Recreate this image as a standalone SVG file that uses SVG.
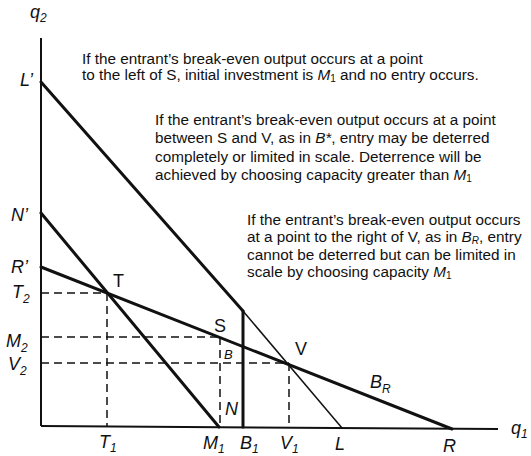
<svg xmlns="http://www.w3.org/2000/svg" width="531" height="456" viewBox="0 0 531 456">
<style>
.txt{font-family:"Liberation Sans",Arial,sans-serif;font-size:15.3px;fill:#111}
.lab{font-family:"Liberation Sans",Arial,sans-serif;font-size:18px;fill:#111}
.it{font-style:italic}
.sub{font-size:12px}
.subt{font-size:10px}
.axis{stroke:#111;stroke-width:2;fill:none}
.thick{stroke:#111;stroke-width:3;fill:none;stroke-linecap:round}
.thin{stroke:#111;stroke-width:1.5;fill:none}
.dash{stroke:#111;stroke-width:1.5;fill:none;stroke-dasharray:8 5}
</style>
<rect width="531" height="456" fill="#fff"/>
<g id="axes">
<line class="axis" x1="41" y1="38" x2="41" y2="426"/>
<line class="axis" x1="41" y1="426" x2="498" y2="429"/>
<text class="lab it" x="30" y="18">q<tspan class="sub" dy="4">2</tspan></text>
<text class="lab it" x="511" y="434">q<tspan class="sub" dy="4">1</tspan></text>
</g>
<g id="connectors">
<line class="thick" x1="41" y1="82" x2="243" y2="311"/>
<line class="thin" x1="243" y1="311" x2="342" y2="428"/>
<line class="thick" x1="243" y1="311" x2="243" y2="427"/>
<line class="thick" x1="41" y1="213" x2="219" y2="427"/>
<line class="thick" x1="41" y1="267" x2="452" y2="429"/>
<line class="dash" x1="41" y1="293" x2="107" y2="293"/>
<line class="dash" x1="107" y1="293" x2="107" y2="426"/>
<line class="dash" x1="41" y1="337" x2="220" y2="337"/>
<line class="dash" x1="220" y1="337" x2="220" y2="426"/>
<line class="dash" x1="41" y1="363" x2="289" y2="363"/>
<line class="dash" x1="289" y1="363" x2="289" y2="428"/>
</g>
<g id="axis-labels">
<text class="lab it" x="20" y="86">L’</text>
<text class="lab it" x="11" y="221">N’</text>
<text class="lab it" x="11" y="273">R’</text>
<text class="lab it" x="12" y="298">T<tspan class="sub" dy="5">2</tspan></text>
<text class="lab it" x="6" y="347">M<tspan class="sub" dy="5">2</tspan></text>
<text class="lab it" x="8" y="370">V<tspan class="sub" dy="5">2</tspan></text>
<text class="lab it" x="99" y="448">T<tspan class="sub" dy="4">1</tspan></text>
<text class="lab it" x="203" y="449">M<tspan class="sub" dy="4">1</tspan></text>
<text class="lab it" x="240" y="449">B<tspan class="sub" dy="4">1</tspan></text>
<text class="lab it" x="280" y="449">V<tspan class="sub" dy="4">1</tspan></text>
<text class="lab it" x="335" y="450">L</text>
<text class="lab it" x="443" y="452">R</text>
</g>
<g id="point-labels">
<text class="lab" x="113" y="287">T</text>
<text class="lab" x="214" y="332">S</text>
<text class="lab" x="295" y="355">V</text>
<text class="lab it" x="224" y="359" style="font-size:13px">B</text>
<text class="lab it" x="225" y="415">N</text>
<text class="lab it" x="370" y="388">B<tspan class="sub" dy="5">R</tspan></text>
</g>
<g id="note-left">
<text class="txt" x="82" y="64">If the entrant’s break-even output occurs at a point</text>
<text class="txt" x="82" y="80">to the left of S, initial investment is <tspan class="it">M</tspan><tspan class="subt" dy="2">1</tspan><tspan dy="-2"> and no entry occurs.</tspan></text>
</g>
<g id="note-middle">
<text class="txt" x="155" y="125">If the entrant’s break-even output occurs at a point</text>
<text class="txt" x="155" y="143">between S and V, as in <tspan class="it">B*</tspan>, entry may be deterred</text>
<text class="txt" x="155" y="162">completely or limited in scale. Deterrence will be</text>
<text class="txt" x="155" y="180">achieved by choosing capacity greater than <tspan class="it">M</tspan><tspan class="subt" dy="2">1</tspan></text>
</g>
<g id="note-right">
<text class="txt" x="247" y="225">If the entrant’s break-even output occurs</text>
<text class="txt" x="247" y="242">at a point to the right of V, as in <tspan class="it">B</tspan><tspan class="subt it" dy="2">R</tspan><tspan dy="-2">, entry</tspan></text>
<text class="txt" x="247" y="260">cannot be deterred but can be limited in</text>
<text class="txt" x="247" y="277">scale by choosing capacity <tspan class="it">M</tspan><tspan class="subt" dy="2">1</tspan></text>
</g>
</svg>
